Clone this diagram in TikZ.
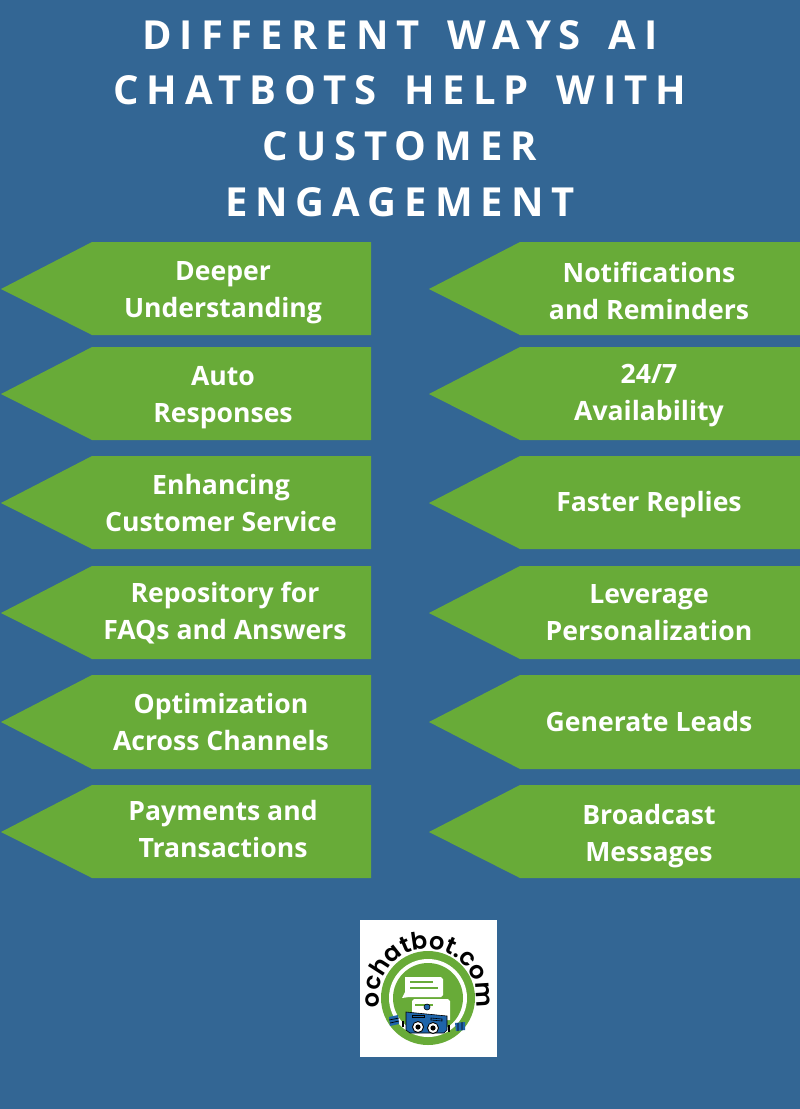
\documentclass[tikz,border=0pt]{standalone}
\usepackage{fontspec}
\setmainfont{Open Sans}[BoldFont={Open Sans Bold}]
\newfontfamily\headfont{Open Sans}[BoldFont={Open Sans Bold},LetterSpace=20,WordSpace=1.52]
\newfontfamily\logofont{Poppins}[BoldFont={Poppins SemiBold}]
\usetikzlibrary{decorations.text}
\definecolor{pagecol}{RGB}{51,102,148}
\definecolor{leafcol}{RGB}{104,171,56}
\definecolor{robotcol}{RGB}{30,100,170}
\tikzset{
  headline/.style={text=white,font=\headfont\fontsize{40}{40}\selectfont\bfseries,inner sep=0pt},
  arrowlabel/.style={text=white,font=\fontsize{26.6}{37}\selectfont\bfseries,align=center,inner sep=0pt},
  leftarrow/.style={fill=leafcol},
  robotpart/.style={draw=black,line width=0.6pt,fill=robotcol},
}
\begin{document}
\begin{tikzpicture}[x=1pt,y=-1pt]
\fill[pagecol] (0,0) rectangle (800,1109);
\useasboundingbox (0,0) rectangle (800,1109);
% title
\node[headline] (line1) at (400,35) {DIFFERENT WAYS AI};
\node[headline] (line2) at (400,90) {CHATBOTS HELP WITH};
\node[headline] (line3) at (400,146) {CUSTOMER};
\node[headline] (line4) at (400,202) {ENGAGEMENT};
% left column
\fill[leftarrow] (1,289) -- (92,242) -- (371,242) -- (371,335) -- (92,335) -- cycle;
\fill[leftarrow] (1,394) -- (92,347) -- (371,347) -- (371,440) -- (92,440) -- cycle;
\fill[leftarrow] (1,503) -- (92,456) -- (371,456) -- (371,549) -- (92,549) -- cycle;
\fill[leftarrow] (1,613) -- (92,566) -- (371,566) -- (371,659) -- (92,659) -- cycle;
\fill[leftarrow] (1,722) -- (92,675) -- (371,675) -- (371,769) -- (92,769) -- cycle;
\fill[leftarrow] (1,832) -- (92,785) -- (371,785) -- (371,878) -- (92,878) -- cycle;
\node[arrowlabel] (deeper) at (223,293) {Deeper\\Understanding};
\node[arrowlabel] (auto) at (223,398) {Auto\\Responses};
\node[arrowlabel] (service) at (221,503) {Enhancing\\Customer Service};
\node[arrowlabel] (faqs) at (225,613) {Repository for\\FAQs and Answers};
\node[arrowlabel] (channels) at (221,722) {Optimization\\Across Channels};
\node[arrowlabel] (payments) at (223,829) {Payments and\\Transactions};
% right column
\fill[leftarrow] (429,289) -- (520,242) -- (800,242) -- (800,335) -- (520,335) -- cycle;
\fill[leftarrow] (429,394) -- (520,347) -- (800,347) -- (800,440) -- (520,440) -- cycle;
\fill[leftarrow] (429,503) -- (520,456) -- (800,456) -- (800,549) -- (520,549) -- cycle;
\fill[leftarrow] (429,613) -- (520,566) -- (800,566) -- (800,659) -- (520,659) -- cycle;
\fill[leftarrow] (429,722) -- (520,675) -- (800,675) -- (800,769) -- (520,769) -- cycle;
\fill[leftarrow] (429,832) -- (520,785) -- (800,785) -- (800,878) -- (520,878) -- cycle;
\node[arrowlabel] (notify) at (649,291) {Notifications\\and Reminders};
\node[arrowlabel] (always) at (649,396) {24/7\\Availability};
\node[arrowlabel] (faster) at (649,505) {Faster Replies};
\node[arrowlabel] (personal) at (649,613) {Leverage\\Personalization};
\node[arrowlabel] (leads) at (649,722) {Generate Leads};
\node[arrowlabel] (broadcast) at (649,836) {Broadcast\\Messages};
% logo
\fill[white] (360,920) rectangle (497,1057);
\fill[leafcol] (428,998) circle (47);
\fill[white] (428,998) circle (39);
\fill[leafcol] (428,998) circle (35);
\path[postaction={decorate,decoration={text along path,text align=center,
  text={|\fontsize{24}{24}\selectfont\logofont\bfseries|ochatbot.com}}}]
  (379,1002) arc[start angle=175,end angle=365,radius=49];
% chat bubbles
\fill[white] (405,977) -- (441,977) -- (443,979) -- (443,995) -- (441,997) -- (409,997) -- (402,998) -- (405,992) -- cycle;
\draw[leafcol,line width=1.3pt] (410,982) -- (433,982) (410,988) -- (438,988);
\fill[white] (414,999) -- (448,999) -- (450,1001) -- (450,1020) -- (412,1020) -- (412,1001) -- cycle;
\draw[leafcol,line width=1.3pt] (415,1005) -- (433,1005);
% robot
\draw[robotpart] (427,1007) circle (3);
\draw[robotpart] (406,1012) -- (447,1016) -- (447,1030) -- (444,1033) -- (410,1033) -- (406,1030) -- cycle;
\draw[black,line width=0.9pt,fill=white] (418,1027) circle (5.5);
\draw[black,line width=0.9pt,fill=white] (433,1028) circle (5.5);
\fill[black] (418,1027) circle (2.6) (433,1028) circle (2.6);
\draw[robotpart] (412,1015) rectangle (424,1017.5);
\draw[robotpart] (431,1018) -- (442,1019) -- (442,1021) -- (431,1020) -- cycle;
% hands and arms
\fill[robotcol] (389,1017) -- (398,1015) -- (399,1024) -- (390,1026) -- cycle;
\fill[robotcol] (455,1023) -- (465,1022) -- (465,1030) -- (456,1031) -- cycle;
\draw[black,line width=0.7pt] (389,1020) -- (399,1018) (390,1023) -- (399,1021) (458,1023) -- (458,1031) (462,1022) -- (462,1030);
\fill[black] (402,1021) rectangle (404,1027);
\fill[black] (448,1025) rectangle (450,1032);
\end{tikzpicture}
\end{document}
